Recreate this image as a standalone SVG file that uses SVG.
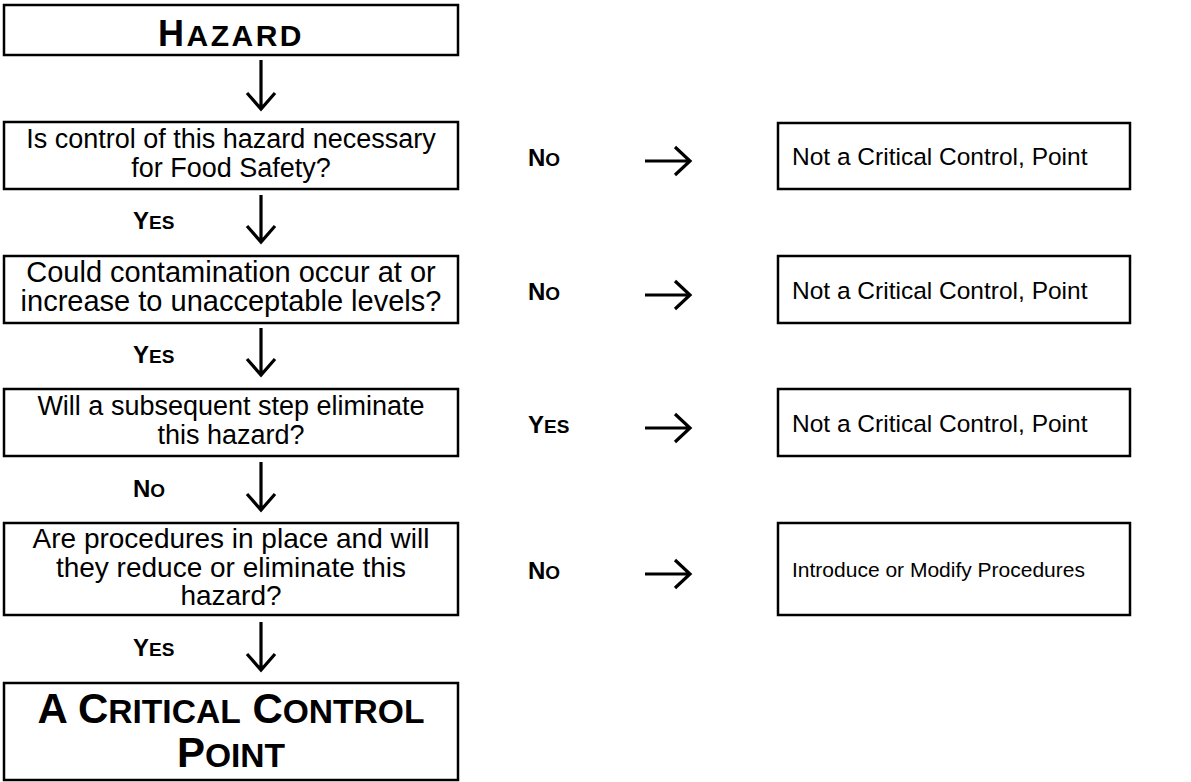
<svg xmlns="http://www.w3.org/2000/svg" width="1191" height="782" viewBox="0 0 1191 782">
<style>
  .box { fill: #fff; stroke: #000; stroke-width: 2.5; }
  .t { font-family: "Liberation Sans", Arial, sans-serif; font-size: 27px; fill: #000; text-anchor: middle; }
  .t29 { font-size: 29px; }
  .t28 { font-size: 28px; }
  .r { font-family: "Liberation Sans", Arial, sans-serif; font-size: 24.5px; fill: #000; }
  .r21 { font-size: 21px; }
  .lbl { font-family: "Liberation Sans", Arial, sans-serif; font-weight: bold; font-size: 24px; fill: #000; }
  .sc { font-size: 19px; }
  .big { font-family: "Liberation Sans", Arial, sans-serif; font-weight: bold; fill: #000; text-anchor: middle; }
  .arr { fill: none; stroke: #000; stroke-width: 3.2; stroke-linejoin: miter; }
</style>
<rect width="1191" height="782" fill="#fff"/>

<g id="n-hazard">
  <rect class="box" x="4" y="5" width="454" height="50"/>
  <text class="big" x="231" y="46" font-size="36" letter-spacing="2.5">H<tspan font-size="30">AZARD</tspan></text>
</g>
<g id="n-q1">
  <rect class="box" x="4" y="122" width="454" height="67"/>
  <text class="t" x="231" y="148">Is control of this hazard necessary</text>
  <text class="t" x="231" y="177">for Food Safety?</text>
</g>
<g id="n-q2">
  <rect class="box" x="4" y="256" width="454" height="67"/>
  <text class="t t29" x="231" y="282">Could contamination occur at or</text>
  <text class="t t29" x="231" y="311">increase to unacceptable levels?</text>
</g>
<g id="n-q3">
  <rect class="box" x="4" y="389" width="454" height="67"/>
  <text class="t" x="231" y="415">Will a subsequent step eliminate</text>
  <text class="t" x="231" y="444">this hazard?</text>
</g>
<g id="n-q4">
  <rect class="box" x="4" y="523" width="454" height="92"/>
  <text class="t t28" x="231" y="548">Are procedures in place and will</text>
  <text class="t t28" x="231" y="576.5">they reduce or eliminate this</text>
  <text class="t t28" x="231" y="605">hazard?</text>
</g>
<g id="n-ccp">
  <rect class="box" x="4" y="683" width="454" height="97"/>
  <text class="big" x="231" y="723" font-size="42">A C<tspan font-size="33.6">RITICAL</tspan> C<tspan font-size="33.6">ONTROL</tspan></text>
  <text class="big" x="231" y="767" font-size="42">P<tspan font-size="33.6">OINT</tspan></text>
</g>

<g id="n-r1">
  <rect class="box" x="778" y="123" width="352" height="66"/>
  <text class="r" x="792" y="165">Not a Critical Control, Point</text>
</g>
<g id="n-r2">
  <rect class="box" x="778" y="256" width="352" height="67"/>
  <text class="r" x="792" y="299">Not a Critical Control, Point</text>
</g>
<g id="n-r3">
  <rect class="box" x="778" y="389" width="352" height="67"/>
  <text class="r" x="792" y="432">Not a Critical Control, Point</text>
</g>
<g id="n-r4">
  <rect class="box" x="778" y="523" width="352" height="92"/>
  <text class="r r21" x="792" y="577">Introduce or Modify Procedures</text>
</g>

<g id="connectors">
  <g id="down-arrows">
    <path class="arr" d="M261 60 V109 M247 93 L261 109 L275 93"/>
    <path class="arr" d="M261 195 V242 M247 226 L261 242 L275 226"/>
    <path class="arr" d="M261 328 V375 M247 359 L261 375 L275 359"/>
    <path class="arr" d="M261 462 V510 M247 494 L261 510 L275 494"/>
    <path class="arr" d="M261 622 V670 M247 654 L261 670 L275 654"/>
  </g>
  <g id="right-arrows">
    <path class="arr" d="M645 161 H690 M675 147 L690 161 L675 175"/>
    <path class="arr" d="M645 295 H690 M675 281 L690 295 L675 309"/>
    <path class="arr" d="M645 428 H690 M675 414 L690 428 L675 442"/>
    <path class="arr" d="M645 574 H690 M675 560 L690 574 L675 588"/>
  </g>
  <g id="labels">
    <text class="lbl" x="133" y="229">Y<tspan class="sc">ES</tspan></text>
    <text class="lbl" x="133" y="363">Y<tspan class="sc">ES</tspan></text>
    <text class="lbl" x="133" y="497">N<tspan class="sc">O</tspan></text>
    <text class="lbl" x="133" y="656">Y<tspan class="sc">ES</tspan></text>
    <text class="lbl" x="528" y="166">N<tspan class="sc">O</tspan></text>
    <text class="lbl" x="528" y="300">N<tspan class="sc">O</tspan></text>
    <text class="lbl" x="528" y="433">Y<tspan class="sc">ES</tspan></text>
    <text class="lbl" x="528" y="579">N<tspan class="sc">O</tspan></text>
  </g>
</g>
</svg>
